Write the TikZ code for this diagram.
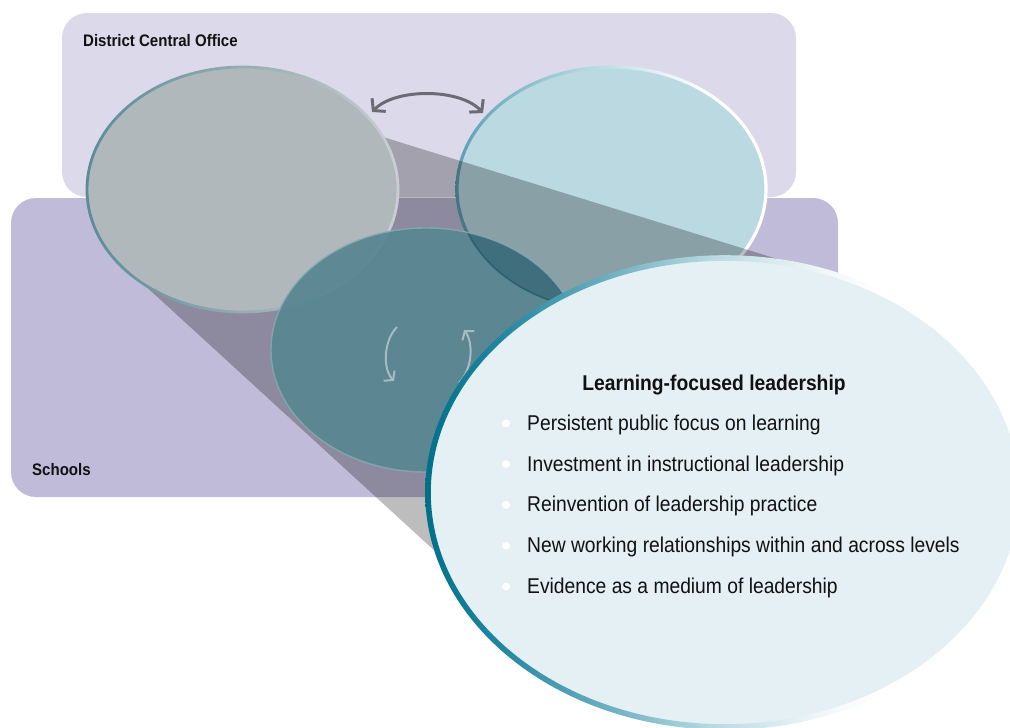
\documentclass[tikz,border=0pt]{standalone}
\usepackage{fontspec}
\setmainfont{Liberation Sans}[FakeStretch=0.9]
\usetikzlibrary{arrows.meta}
\definecolor{topbg}{HTML}{DCDAEA}
\definecolor{botbg}{HTML}{BFBBD9}
\definecolor{grayell}{HTML}{B0B8BB}
\definecolor{blueell}{HTML}{BAD9E0}
\definecolor{tealell}{HTML}{588692}
\definecolor{overlapc}{HTML}{3F6F7D}
\definecolor{overedge}{HTML}{2F6070}
\definecolor{bigfill}{HTML}{E4F0F3}
\definecolor{arrgray}{HTML}{6C6B74}
\definecolor{cycgray}{HTML}{A6BCC1}
\definecolor{tealedge}{HTML}{86ABB3}
\definecolor{txt}{HTML}{111111}
\definecolor{rA}{HTML}{00708A}
\definecolor{rB}{HTML}{1F86A0}
\definecolor{rC}{HTML}{5AA5B8}
\definecolor{rD}{HTML}{B8DAE2}
\definecolor{rE}{HTML}{F0F7F9}
\definecolor{gA}{HTML}{5A8C97}
\definecolor{gB}{HTML}{93ADB3}
\definecolor{gC}{HTML}{CACFD1}
\definecolor{lA}{HTML}{5D9FB0}
\definecolor{lB}{HTML}{9CCAD5}
\definecolor{lC}{HTML}{D8ECF0}
\pgfdeclarehorizontalshading{bigring}{100bp}{color(0bp)=(rA); color(25bp)=(rA); color(31bp)=(rB); color(38bp)=(rC); color(49bp)=(rD); color(58bp)=(rE); color(63bp)=(white); color(100bp)=(white)}
\pgfdeclarehorizontalshading{grayring}{100bp}{color(0bp)=(gA); color(25bp)=(gA); color(50bp)=(gB); color(75bp)=(gC); color(100bp)=(gC)}
\pgfdeclarehorizontalshading{bluering}{100bp}{color(0bp)=(lA); color(25bp)=(lA); color(40bp)=(lB); color(55bp)=(lC); color(65bp)=(white); color(100bp)=(white)}
\newcommand\gradring[6]{\shade[even odd rule,shading=#6] (#1,#2) ellipse [x radius=#3+#5, y radius=#4+#5] (#1,#2) ellipse [x radius=#3-#5, y radius=#4-#5];}
\begin{document}
\begin{tikzpicture}[x=1pt,y=-1pt,
  lbl/.style={font=\bfseries\fontsize{16.7}{20}\selectfont, anchor=base west, inner sep=0, text=txt},
  item/.style={font=\fontsize{21.4}{25}\selectfont, anchor=base west, inner sep=0, text=txt},
  ttl/.style={font=\bfseries\fontsize{21.4}{25}\selectfont, anchor=base, inner sep=0, text=txt},
  dot/.style={circle, fill=white, inner sep=0, minimum size=8pt},
  swaparrow/.style={draw=arrgray, line width=3pt, {Straight Barb[length=8pt,width=19pt]}-{Straight Barb[length=8pt,width=19pt]}},
  cyc/.style={draw=cycgray, line width=2pt, -{Straight Barb[length=6pt,width=15pt]}}]
\useasboundingbox (0,0) rectangle (1010,728);
% background panels
\fill[topbg, rounded corners=25] (62,13) rectangle (796,197);
\fill[botbg, rounded corners=25] (11,198) rectangle (838,497);
% light blue ellipse
\fill[blueell] (611.5,189) ellipse [x radius=154.5, y radius=122];
\gradring{611.5}{189}{154.5}{122}{1.6}{bluering}
% funnel
\fill[black, opacity=0.26] (383,137) -- (838,277.8) -- (725,492) -- (460,574) -- (140,281) -- (242,189) -- cycle;
% gray ellipse
\fill[grayell] (242.5,189.5) ellipse [x radius=155.5, y radius=122.5];
\gradring{242.5}{189.5}{155.5}{122.5}{1.4}{grayring}
% teal ellipse
\fill[tealell, opacity=0.93] (426,350) ellipse [x radius=155, y radius=122];
\begin{scope}
  \clip (611.5,189) ellipse [x radius=154.5, y radius=122];
  \clip (426,350) ellipse [x radius=155, y radius=122];
  \fill[overlapc] (426,350) ellipse [x radius=155, y radius=122];
  \draw[overedge, line width=3pt] (611.5,189) ellipse [x radius=154.5, y radius=122];
\end{scope}
\draw[tealedge, line width=1.4pt, opacity=0.8] (426,350) ellipse [x radius=155, y radius=122];
% arrows
\coordinate (sw1) at (372,112);
\coordinate (sw2) at (483,113);
\draw[swaparrow] (sw1) .. controls (395,88) and (460,88) .. (sw2);
\coordinate (cl1) at (397,327);
\coordinate (cl2) at (394,381);
\draw[cyc] (cl1) .. controls (384,340) and (382,368) .. (cl2);
\coordinate (cr1) at (459,383);
\coordinate (cr2) at (464,330);
\draw[cyc] (cr1) .. controls (472,370) and (474,343) .. (cr2);
% big ellipse
\fill[bigfill] (725,492.5) ellipse [x radius=297, y radius=234.5];
\gradring{725}{492.5}{297}{234.5}{2.8}{bigring}
% labels
\node[lbl] (dco) at (83,46) {District Central Office};
\node[lbl] (sch) at (32,475) {Schools};
\node[ttl] (title) at (714,390) {Learning-focused leadership};
\node[dot] (b1) at (506,423.3) {};
\node[dot] (b2) at (506,464.1) {};
\node[dot] (b3) at (506,504.9) {};
\node[dot] (b4) at (506,545.7) {};
\node[dot] (b5) at (506,586.5) {};
\node[item] (i1) at (527,430.3) {Persistent public focus on learning};
\node[item] (i2) at (527,471.1) {Investment in instructional leadership};
\node[item] (i3) at (527,511.9) {Reinvention of leadership practice};
\node[item] (i4) at (527,552.7) {New working relationships within and across levels};
\node[item] (i5) at (527,593.5) {Evidence as a medium of leadership};
\end{tikzpicture}
\end{document}
